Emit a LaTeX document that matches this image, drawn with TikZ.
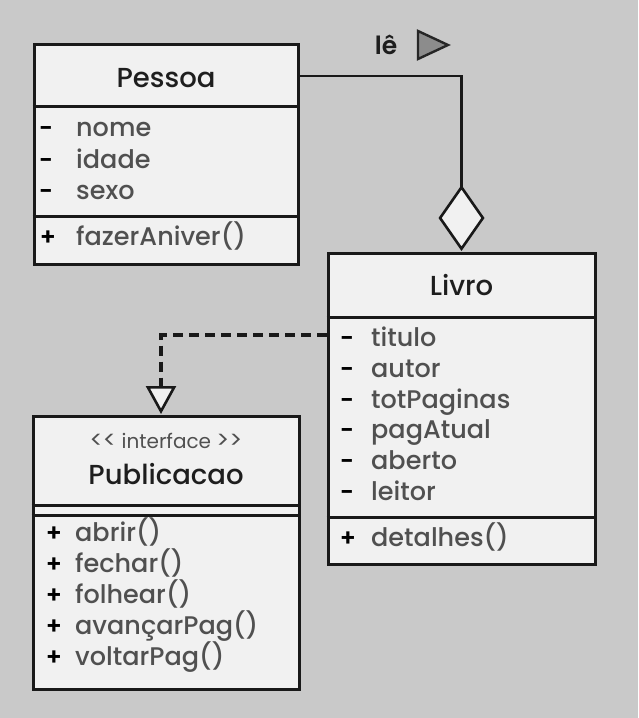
\documentclass[tikz,border=0pt]{standalone}
\usepackage{fontspec}
\setmainfont{Poppins}[UprightFont=* Medium, BoldFont=* SemiBold]
\newfontfamily\stereofont{Poppins}
\usetikzlibrary{arrows.meta}
\definecolor{bg}{HTML}{C9C9C9}
\definecolor{boxfill}{HTML}{F1F1F1}
\definecolor{txt}{HTML}{505050}
\definecolor{ttl}{HTML}{1E1E1E}
\definecolor{tri}{HTML}{8C8C8C}
\tikzset{
  classbox/.style={draw=black!90, line width=3pt, fill=boxfill, inner sep=0pt},
  divider/.style={draw=black!90, line width=3pt},
  title/.style={font=\fontsize{27.5}{31}\selectfont, text=ttl, anchor=base, inner sep=0pt},
  member/.style={font=\fontsize{25.5}{29}\selectfont, text=txt, anchor=base west, inner sep=0pt},
  sign/.style={font=\fontsize{24}{28}\selectfont\bfseries, text=black, anchor=base, inner sep=0pt},
  conn/.style={draw=black!90, line width=2.6pt},
}
\begin{document}
\begin{tikzpicture}[x=1pt,y=-1pt]
\fill[bg] (0,0) rectangle (638,718);
\useasboundingbox (0,0) rectangle (638,718);

% Pessoa
\node[classbox, minimum width=264pt, minimum height=220pt] (pessoa) at (166,154) {};
\draw[divider] (pessoa.west |- 0,106) -- (pessoa.east |- 0,106);
\draw[divider] (pessoa.west |- 0,216) -- (pessoa.east |- 0,216);
\node[title] (tp) at (166,87) {Pessoa};
\node[sign] (s1) at (46,136.5) {-};
\node[member] (a1) at (76,136.5) {nome};
\node[sign] (s2) at (46,168) {-};
\node[member] (a2) at (76,168) {idade};
\node[sign] (s3) at (46,199) {-};
\node[member] (a3) at (76,199) {sexo};
\node[sign] (s4) at (48,245) {+};
\node[member] (m1) at (76,245) {fazerAniver()};

% Livro
\node[classbox, minimum width=267pt, minimum height=311pt] (livro) at (461.5,408.5) {};
\draw[divider] (livro.west |- 0,317) -- (livro.east |- 0,317);
\draw[divider] (livro.west |- 0,517) -- (livro.east |- 0,517);
\node[title] (tl) at (461.5,295) {Livro};
\node[sign] (l1) at (347,346.7) {-};
\node[member] (b1) at (371,346.7) {titulo};
\node[sign] (l2) at (347,377.3) {-};
\node[member] (b2) at (371,377.3) {autor};
\node[sign] (l3) at (347,408) {-};
\node[member] (b3) at (371,408) {totPaginas};
\node[sign] (l4) at (347,438.6) {-};
\node[member] (b4) at (371,438.6) {pagAtual};
\node[sign] (l5) at (347,469.2) {-};
\node[member] (b5) at (371,469.2) {aberto};
\node[sign] (l6) at (347,500) {-};
\node[member] (b6) at (371,500) {leitor};
\node[sign] (l7) at (348,546.7) {+};
\node[member] (n1) at (371,546.7) {detalhes()};

% Publicacao
\node[classbox, minimum width=266pt, minimum height=273pt] (pub) at (166,552.5) {};
\draw[divider] (pub.west |- 0,505) -- (pub.east |- 0,505);
\draw[divider] (pub.west |- 0,515) -- (pub.east |- 0,515);
\node[font=\stereofont\fontsize{20}{24}\selectfont, text=txt, anchor=base, inner sep=0pt] (st) at (166,448) {\scalebox{1.2}{{<}{<}} interface \scalebox{1.2}{{>}{>}}};
\node[title] (tpub) at (166,484) {Publicacao};
\node[sign] (p1) at (54,541.7) {+};
\node[member] (c1) at (75,541.7) {abrir()};
\node[sign] (p2) at (54,572.5) {+};
\node[member] (c2) at (75,572.5) {fechar()};
\node[sign] (p3) at (54,603.5) {+};
\node[member] (c3) at (75,603.5) {folhear()};
\node[sign] (p4) at (54,634.5) {+};
\node[member] (c4) at (75,634.5) {avançarPag()};
\node[sign] (p5) at (54,665) {+};
\node[member] (c5) at (75,665) {voltarPag()};

% aggregation Pessoa - Livro
\coordinate (agg) at (461.5,251);
\draw[conn, -{Diamond[length=66pt, width=46pt, fill=boxfill, line width=2.6pt]}]
  (pessoa.east |- 0,76) -| (agg);
\node[font=\fontsize{25}{29}\selectfont\bfseries, text=ttl, anchor=base, inner sep=0pt] (le) at (386,54) {lê};
\draw[line width=2.4pt, draw=black!85, fill=tri, line join=miter] (418,31) -- (448,45) -- (418,59) -- cycle;

% realization Livro - Publicacao
\coordinate (bend) at (161,335);
\coordinate (tip) at (161,414);
\draw[conn, line width=3.4pt, dash pattern=on 10pt off 6pt, -{Triangle[open, length=28pt, width=30pt, line width=2.6pt, fill=boxfill]}]
  (livro.west |- bend) -- (bend) -- (tip);
\end{tikzpicture}
\end{document}
